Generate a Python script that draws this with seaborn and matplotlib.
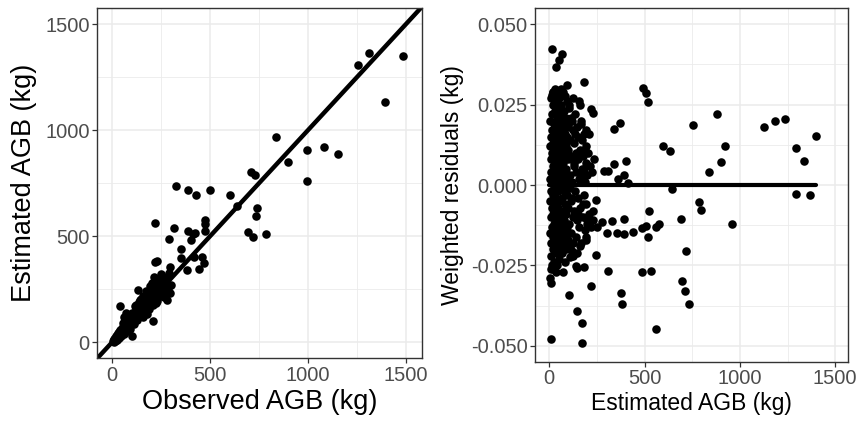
import numpy as np
import pandas as pd
import matplotlib
matplotlib.use("Agg")
import matplotlib.pyplot as plt
from matplotlib.ticker import MultipleLocator
import seaborn as sns

# observed vs estimated AGB (kg) -- outlying trees
obs_out = [1486, 1313, 1255, 1393, 837, 997, 1080, 1155, 896, 997, 707, 729, 327, 386, 427, 498,
           602, 639, 741, 735, 696, 719, 784, 474, 476, 474, 221, 316, 291, 386, 415, 425, 403,
           352, 352, 418, 461, 471, 444, 381, 296, 293, 218, 228, 214, 296, 279, 134, 211, 100, 41]
est_out = [1349, 1366, 1307, 1134, 969, 908, 922, 887, 848, 760, 801, 790, 738, 719, 693, 718,
           694, 641, 633, 595, 521, 498, 509, 576, 558, 525, 561, 540, 488, 525, 509, 514, 482,
           438, 396, 401, 404, 372, 347, 341, 357, 325, 380, 385, 309, 231, 199, 247, 102, 30, 171]
# dense cluster of small trees
obs_dense = [5, 8, 10, 12, 15, 18, 20, 22, 25, 28, 30, 33, 35, 38, 40, 42, 45, 48, 50, 52, 55, 58,
             60, 62, 65, 68, 70, 72, 75, 78, 80, 85, 88, 90, 95, 98, 100, 105, 108, 110, 115, 118,
             120, 125, 128, 130, 135, 138, 140, 145, 148, 150, 155, 158, 160, 165, 168, 170, 175,
             178, 180, 185, 188, 190, 195, 198, 200, 205, 210, 215, 220, 225, 230, 235, 240, 245,
             250, 255, 60, 75, 90, 110, 130, 150, 170, 190, 210, 230, 55, 85, 115, 145, 175, 205,
             235, 260, 270, 280, 120, 140, 160, 100, 65, 45, 35, 25, 15, 200, 220, 180, 240, 250,
             160, 180, 60, 70, 300, 285, 265, 245, 225, 195, 150, 125]
est_dense = [8, 3, 15, 10, 22, 12, 28, 18, 35, 20, 42, 25, 50, 30, 60, 35, 52, 40, 70, 45, 62, 48,
             80, 55, 72, 58, 95, 62, 85, 65, 100, 75, 110, 80, 120, 88, 105, 92, 130, 100, 118, 105,
             145, 112, 135, 118, 160, 125, 150, 130, 170, 140, 165, 145, 185, 150, 175, 160, 195,
             165, 190, 170, 205, 180, 215, 185, 210, 195, 225, 200, 240, 210, 250, 215, 265, 230,
             270, 240, 40, 55, 65, 85, 105, 125, 140, 155, 175, 195, 90, 130, 170, 200, 240, 280,
             300, 290, 255, 310, 160, 190, 220, 140, 100, 30, 20, 12, 5, 250, 275, 230, 285, 320,
             120, 135, 120, 140, 270, 245, 215, 300, 185, 265, 205, 175]

# estimated AGB vs weighted residuals -- scattered points
agb_out = [12, 65, 51, 33, 182, 494, 506, 518, 882, 756, 1129, 1185, 1237, 1400, 1294, 1337, 1297,
           1367, 921, 900, 840, 599, 634, 642, 784, 796, 961, 690, 718, 695, 710, 735, 558, 536,
           488, 525, 518, 487, 508, 558, 574, 439, 392, 354, 301, 329, 392, 376, 381, 306, 243,
           219, 103, 144, 170, 170, 7, 341, 370, 285, 309, 341, 403, 392, 362, 415, 245, 228, 275,
           252, 191, 117, 138, 108, 70, 21, 7, 3, 184, 144, 217, 228, 161, 123, 84, 21, 65]
res_out = [0.0422, 0.0407, 0.0388, 0.0367, 0.0319, 0.0302, 0.0287, 0.0259, 0.0220, 0.0187, 0.0180,
           0.0198, 0.0204, 0.0153, 0.0116, 0.0076, -0.0028, -0.0032, 0.0122, 0.0072, 0.0042,
           0.0122, 0.0106, -0.0011, -0.0052, -0.0076, -0.0122, -0.0107, -0.0204, -0.0298, -0.0328,
           -0.0369, -0.0449, -0.0268, -0.0271, -0.0080, -0.0163, -0.0135, -0.0127, -0.0129,
           -0.0121, -0.0147, -0.0152, -0.0148, -0.0148, -0.0111, -0.0104, -0.0334, -0.0369,
           -0.0268, -0.0217, -0.0313, -0.0342, -0.0391, -0.0430, -0.0490, -0.0479, 0.0173, 0.0194,
           0.0043, 0.0043, 0.0064, 0.0076, 0.0031, 0.0019, 0.0007, -0.0047, -0.0081, -0.0114,
           -0.0129, -0.0171, -0.0205, -0.0252, -0.0223, -0.0270, -0.0262, -0.0305, -0.0290,
           -0.0254, -0.0257, 0.0235, 0.0223, 0.0248, 0.0272, 0.0277, 0.0290, 0.0293]
agb_dense = [3, 4, 5, 5, 6, 7, 7, 8, 8, 9, 10, 10, 11, 12, 12, 13, 14, 15, 15, 16, 17, 18, 18, 19,
             20, 20, 21, 22, 23, 24, 24, 25, 26, 27, 28, 28, 29, 30, 30, 31, 32, 33, 34, 35, 35, 36,
             37, 38, 38, 39, 40, 40, 41, 42, 43, 44, 45, 45, 46, 47, 48, 49, 50, 50, 51, 52, 53, 54,
             55, 55, 56, 57, 58, 59, 60, 60, 61, 62, 63, 64, 65, 66, 67, 68, 69, 70, 70, 71, 72, 73,
             74, 75, 76, 77, 78, 79, 80, 81, 82, 83, 84, 85, 86, 87, 88, 89, 90, 91, 92, 93, 94, 95,
             96, 97, 98, 99, 100, 102, 104, 106, 108, 110, 112, 114, 116, 118, 120, 122, 124, 126,
             128, 130, 132, 134, 136, 138, 140, 142, 144, 146, 148, 150, 152, 155, 158, 160, 162,
             165, 168, 170, 172, 175, 178, 180, 182, 185, 188, 190, 192, 195, 198, 200, 205, 210,
             215, 220, 225, 230, 235, 30, 45, 60, 15,
             105, 115, 125, 135, 145, 155, 165, 175, 185, 195, 110, 130, 150, 170, 190, 210,
             100, 120, 140, 160, 180, 200, 25, 55, 85, 115, 10, 40, 70, 95]
res_dense = [0.012, -0.005, 0.020, -0.015, 0.002, 0.008, -0.022, 0.027, -0.010, 0.015, -0.002,
             0.004, -0.018, 0.010, -0.025, 0.022, -0.007, 0.001, 0.017, -0.013, 0.006, -0.020,
             0.025, -0.003, 0.013, -0.009, 0.029, -0.016, 0.003, 0.019, -0.024, -0.001, 0.009,
             -0.012, 0.023, -0.006, 0.014, -0.019, 0.000, 0.026, -0.011, 0.007, -0.027, 0.016,
             -0.004, 0.011, -0.015, 0.021, 0.002, -0.008, 0.028, -0.021, 0.005, -0.013, 0.018,
             -0.002, 0.012, -0.017, 0.024, -0.007, 0.003, -0.023, 0.015, -0.010, 0.008, 0.027,
             -0.014, 0.001, 0.020, -0.005, -0.019, 0.010, 0.014, -0.009, 0.025, -0.001, -0.016,
             0.006, 0.022, -0.012, 0.002, 0.017, -0.021, 0.011, -0.004, 0.029, -0.014, 0.007,
             -0.008, 0.019, -0.018, 0.004, 0.013, -0.011, 0.023, -0.002, -0.024, 0.009, 0.016,
             -0.006, 0.000, -0.015, 0.021, 0.005, -0.020, 0.012, -0.009, 0.026, 0.002, -0.013,
             0.015, -0.003, 0.008, -0.017, 0.019, -0.007, 0.011, -0.012, 0.024, 0.003, -0.019,
             0.014, -0.005, 0.009, -0.015, 0.020, 0.001, -0.010, 0.017, -0.022, 0.006, 0.013,
             -0.008, 0.022, -0.002, 0.010, -0.016, 0.004, 0.018, -0.011, 0.008, -0.004, 0.015,
             -0.013, 0.002, 0.011, -0.007, 0.019, -0.018, 0.005, 0.014, -0.010, 0.009, -0.003,
             0.016, -0.014, 0.001, 0.012, -0.006, 0.007, -0.012, 0.003, 0.010, -0.009, 0.006,
             -0.013, 0.004, -0.011, 0.008, 0.030, 0.029, 0.030, 0.028,
             0.025, 0.021, -0.018, 0.016, -0.021, 0.026, 0.020, -0.006, 0.011, 0.017, -0.001,
             0.007, -0.009, 0.003, -0.016, 0.016, 0.018, -0.004, 0.009, -0.019, 0.005, -0.011,
             -0.020, 0.024, -0.017, -0.022, -0.026, -0.025, 0.028, 0.031]

left = pd.DataFrame({"obs": obs_out + obs_dense, "est": est_out + est_dense})
right = pd.DataFrame({"agb": agb_out + agb_dense, "res": res_out + res_dense})

sns.set_theme(style="white")
plt.rcParams["font.family"] = ["Liberation Sans", "DejaVu Sans"]

fig = plt.figure(figsize=(8.58, 4.23), dpi=100)
ax1 = fig.add_axes([0.1134, 0.153, 0.3784, 0.827])
ax2 = fig.add_axes([0.624, 0.145, 0.3647, 0.835])


def ggplot_style(ax, major, minor):
    ax.xaxis.set_major_locator(MultipleLocator(major[0]))
    ax.xaxis.set_minor_locator(MultipleLocator(minor[0]))
    ax.yaxis.set_major_locator(MultipleLocator(major[1]))
    ax.yaxis.set_minor_locator(MultipleLocator(minor[1]))
    ax.grid(which="major", color="#EBEBEB", linewidth=1.1)
    ax.grid(which="minor", color="#EBEBEB", linewidth=0.6)
    ax.set_axisbelow(True)
    for s in ax.spines.values():
        s.set_color("#333333")
        s.set_linewidth(1.0)
    ax.tick_params(which="major", length=3.5, width=0.9, color="#333333",
                   labelsize=14.5, labelcolor="#4D4D4D", pad=2, bottom=True, left=True)
    ax.tick_params(which="minor", length=0)


sns.scatterplot(data=left, x="obs", y="est", ax=ax1, color="black", s=38, linewidth=0)
ax1.plot([-80, 1600], [-80, 1600], color="black", linewidth=3.2)
ax1.set_xlim(-75, 1582)
ax1.set_ylim(-75, 1574)
ggplot_style(ax1, (500, 500), (250, 250))
ax1.set_xlabel("Observed AGB (kg)", fontsize=19.5, color="black", labelpad=3)
ax1.set_ylabel("Estimated AGB (kg)", fontsize=19.5, color="black", labelpad=6)

sns.scatterplot(data=right, x="agb", y="res", ax=ax2, color="black", s=38, linewidth=0)
ax2.plot([0, 1400], [0, 0], color="black", linewidth=3.0)
ax2.set_xlim(-73, 1569)
ax2.set_ylim(-0.0549, 0.0549)
ggplot_style(ax2, (500, 0.025), (250, 0.0125))
ax2.yaxis.set_major_formatter(plt.FormatStrFormatter("%.3f"))
ax2.set_xlabel("Estimated AGB (kg)", fontsize=16.5, color="black", labelpad=3)
ax2.set_ylabel("Weighted residuals (kg)", fontsize=16.5, color="black", labelpad=5)

fig.savefig("out.png", dpi=100)
